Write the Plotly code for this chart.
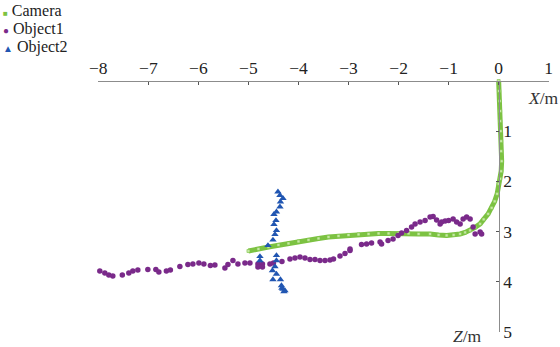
import plotly.graph_objects as go

# Camera trajectory (X, Z in metres)
cam_x = [0.00, 0.01, 0.02, 0.03, 0.03, 0.04, 0.05, 0.05, 0.06, 0.05, 0.03, 0.00,
         -0.03, -0.08, -0.14, -0.21, -0.30, -0.37, -0.47, -0.57, -0.67, -0.77,
         -0.90, -1.04, -1.20, -1.37, -1.60, -1.80, -2.00, -2.20, -2.40, -2.60,
         -2.80, -3.00, -3.20, -3.40, -3.60, -3.80, -4.00, -4.20, -4.40, -4.60,
         -4.80, -5.00]
cam_z = [0.00, 0.20, 0.40, 0.60, 0.80, 1.00, 1.20, 1.40, 1.60, 1.80, 1.95, 2.05,
         2.25, 2.40, 2.53, 2.65, 2.76, 2.85, 2.92, 2.98, 3.02, 3.05,
         3.07, 3.08, 3.07, 3.05, 3.05, 3.04, 3.04, 3.04, 3.04, 3.05,
         3.06, 3.07, 3.09, 3.11, 3.14, 3.17, 3.20, 3.24, 3.27, 3.31,
         3.35, 3.39]

# Object1 detections
obj1_x = [-8.07, -7.97, -7.87, -7.79, -7.71, -7.52, -7.39, -7.31, -7.21, -7.01,
          -6.85, -6.79, -6.64, -6.56, -6.37, -6.21, -6.11, -5.99, -5.89, -5.76,
          -5.67, -5.47, -5.41, -5.31, -5.21, -5.07, -4.97, -4.81, -4.81, -4.72,
          -4.72, -4.57, -4.50, -4.33, -4.17, -4.07, -3.97, -3.87, -3.77, -3.67,
          -3.57, -3.47, -3.37, -3.30, -3.17, -3.07, -2.97, -2.97, -2.74, -2.64,
          -2.54, -2.37, -2.34, -2.21, -2.11, -2.01, -1.94, -1.84, -1.74, -1.67,
          -1.57, -1.47, -1.37, -1.31, -1.24, -1.17, -1.14, -1.07, -1.00, -0.91,
          -0.84, -0.77, -0.71, -0.64, -0.57, -0.51, -0.47, -0.37, -0.34]
obj1_z = [3.78, 3.79, 3.83, 3.87, 3.89, 3.87, 3.83, 3.79, 3.77, 3.76,
          3.76, 3.81, 3.79, 3.77, 3.70, 3.66, 3.65, 3.63, 3.65, 3.68,
          3.67, 3.73, 3.66, 3.58, 3.65, 3.63, 3.63, 3.65, 3.71, 3.65,
          3.71, 3.65, 3.63, 3.60, 3.55, 3.53, 3.51, 3.53, 3.56, 3.56,
          3.58, 3.58, 3.57, 3.55, 3.49, 3.44, 3.38, 3.35, 3.26, 3.25,
          3.23, 3.21, 3.25, 3.18, 3.15, 3.08, 3.03, 2.98, 2.91, 2.85,
          2.81, 2.78, 2.71, 2.70, 2.77, 2.85, 2.81, 2.79, 2.78, 2.75,
          2.81, 2.85, 2.75, 2.71, 2.75, 2.91, 3.05, 3.01, 3.05]

# Object2 detections
obj2_x = [-4.41, -4.37, -4.31, -4.36, -4.37, -4.44, -4.49, -4.45, -4.49, -4.44,
          -4.47, -4.51, -4.61, -4.77, -4.77, -4.44, -4.44, -4.47, -4.52, -4.44,
          -4.51, -4.36, -4.34, -4.31, -4.27, -4.29, -4.33]
obj2_z = [2.21, 2.28, 2.34, 2.41, 2.51, 2.61, 2.66, 2.78, 2.86, 2.98,
          3.06, 3.17, 3.28, 3.50, 3.58, 3.48, 3.58, 3.70, 3.78, 3.85,
          3.96, 3.96, 4.08, 4.15, 4.18, 4.20, 4.13]

x_ticks = [-8, -7, -6, -5, -4, -3, -2, -1, 0, 1]
z_ticks = [1, 2, 3, 4, 5]

GREEN = "#7cc242"
PURPLE = "#7a2a8a"
BLUE = "#2156b2"
AXIS = "#8c8c8c"
SERIF = "Liberation Serif, Times New Roman, serif"

W, H = 560, 347
# pixel layout of the axes
x_left_px, x_right_px = 98.3, 548.7
z_top_px, z_bot_px = 81.0, 331.7
zaxis_px = 498.7

fig = go.Figure()

fig.add_trace(go.Scatter(
    x=cam_x, y=cam_z, mode="lines", showlegend=False,
    line=dict(color=GREEN, width=5), hoverinfo="skip"))
fig.add_trace(go.Scatter(
    x=cam_x, y=cam_z, mode="markers", name="Camera", showlegend=False,
    cliponaxis=False,
    marker=dict(symbol="square", size=3, color="#c6e8a6",
                line=dict(color=GREEN, width=0.6))))
fig.add_trace(go.Scatter(
    x=obj1_x, y=obj1_z, mode="markers", name="Object1", showlegend=False,
    cliponaxis=False,
    marker=dict(symbol="circle", size=5.5, color=PURPLE)))
fig.add_trace(go.Scatter(
    x=obj2_x, y=obj2_z, mode="markers", name="Object2", showlegend=False,
    cliponaxis=False,
    marker=dict(symbol="triangle-up", size=6.5, color=BLUE)))

annotations = [
    dict(text="<i>X</i>/m", x=1, y=0, xref="x", yref="y", xanchor="right",
         yanchor="top", yshift=-5, xshift=12, showarrow=False,
         font=dict(family=SERIF, size=17.5, color="#333")),
    dict(text="<i>Z</i>/m", x=0, y=5, xref="x", yref="y", xanchor="right",
         yanchor="middle", xshift=-15, yshift=-4, showarrow=False,
         font=dict(family=SERIF, size=17.5, color="#333")),
]

# hand-built legend in the top-left corner
legend_items = [
    ("Camera", "■", GREEN, 8),
    ("Object1", "●", PURPLE, 10),
    ("Object2", "▲", BLUE, 10),
]
for i, (name, glyph, col, gsize) in enumerate(legend_items):
    annotations.append(dict(
        text=f'<span style="color:{col};font-size:{gsize}px">{glyph}</span> {name}',
        x=0, y=1, xref="paper", yref="paper", xanchor="left", yanchor="top",
        xshift=2, yshift=-1 - 18 * i, showarrow=False, borderpad=0,
        font=dict(family=SERIF, size=16, color="#222")))

axis_common = dict(
    showline=True, linecolor=AXIS, linewidth=1,
    ticks="inside", ticklen=3, tickcolor="#555", tickwidth=1,
    showgrid=False, zeroline=False, automargin=False,
    tickfont=dict(family=SERIF, size=17.5, color="#222"))

fig.update_layout(
    template="none",
    width=W, height=H,
    margin=dict(l=0, r=0, t=0, b=0, pad=0, autoexpand=False),
    paper_bgcolor="white", plot_bgcolor="white",
    font=dict(family=SERIF),
    showlegend=False,
    xaxis=dict(
        domain=[x_left_px / W, x_right_px / W], range=[-8, 1],
        side="top", anchor="free", position=1 - z_top_px / H,
        tickvals=x_ticks, **axis_common),
    yaxis=dict(
        domain=[1 - z_bot_px / H, 1 - z_top_px / H], range=[5, 0],
        side="right", anchor="free", position=zaxis_px / W,
        tickvals=z_ticks, **axis_common),
    annotations=annotations,
)

fig.write_html("out.html")
